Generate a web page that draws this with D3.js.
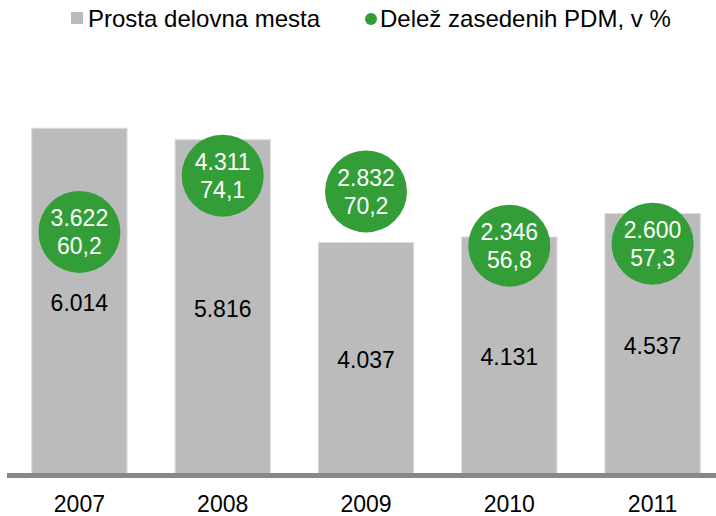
<!DOCTYPE html>
<html><head><meta charset="utf-8">
<script src="https://cdn.jsdelivr.net/npm/d3@7"></script>
<style>body{margin:0;background:#fff}svg{display:block}text{font-family:"Liberation Sans",Arial,sans-serif}</style>
</head><body>
<script>
const years = ["2007","2008","2009","2010","2011"];
const vacancies = [6014, 5816, 4037, 4131, 4537];
const filled = [3622, 4311, 2832, 2346, 2600];
const shareFilled = [60.2, 74.1, 70.2, 56.8, 57.3];
const legendLabels = ["Prosta delovna mesta", "Delež zasedenih PDM, v %"];

const W = 716, H = 516;
const baseY = 475.5;
const fmtInt = v => d3.format(",")(v).replace(/,/g, ".");
const fmtDec = v => d3.format(".1f")(v).replace(".", ",");

const svg = d3.select("body").append("svg").attr("width", W).attr("height", H);

const step = 143.3;
const x = d3.scaleBand().domain(years).range([7.75, 7.75 + step * years.length])
  .paddingInner(0.335).paddingOuter(0.1675);
const y = d3.scaleLinear().domain([0, 8000]).range([baseY, 13.6]);
const y2 = d3.scaleLinear().domain([0, 100]).range([baseY, 70.9]);

// bars
svg.append("g").selectAll("rect").data(years).join("rect")
  .attr("x", d => x(d)).attr("width", x.bandwidth())
  .attr("y", (d, i) => y(vacancies[i])).attr("height", (d, i) => baseY - y(vacancies[i]))
  .attr("fill", "#bbbbbb").attr("stroke", "#dcdcdc").attr("stroke-width", 1);

// bar labels
svg.append("g").selectAll("text").data(years).join("text")
  .attr("x", d => x(d) + x.bandwidth() / 2)
  .attr("y", (d, i) => (y(vacancies[i]) + 473) / 2 + 10.5)
  .attr("text-anchor", "middle").attr("font-size", 23).attr("fill", "#000")
  .text((d, i) => fmtInt(vacancies[i]));

// baseline
svg.append("line").attr("x1", 7).attr("x2", W).attr("y1", baseY).attr("y2", baseY)
  .attr("stroke", "#888888").attr("stroke-width", 5);

// x axis labels
svg.append("g").selectAll("text").data(years).join("text")
  .attr("x", d => x(d) + x.bandwidth() / 2).attr("y", 512)
  .attr("text-anchor", "middle").attr("font-size", 23).attr("fill", "#000")
  .text(d => d);

// circles
const cg = svg.append("g").selectAll("g").data(years).join("g")
  .attr("transform", (d, i) => `translate(${x(d) + x.bandwidth() / 2},${y2(shareFilled[i])})`);
cg.append("circle").attr("r", 41).attr("fill", "#339e37");
cg.append("text").attr("y", -5.7).attr("text-anchor", "middle").attr("font-size", 23)
  .attr("fill", "#fff").text((d, i) => fmtInt(filled[i]));
cg.append("text").attr("y", 22.3).attr("text-anchor", "middle").attr("font-size", 23)
  .attr("fill", "#fff").text((d, i) => fmtDec(shareFilled[i]));

// legend
const lg = svg.append("g");
lg.append("rect").attr("x", 71).attr("y", 12).attr("width", 12).attr("height", 12).attr("fill", "#bbbbbb");
lg.append("text").attr("x", 88).attr("y", 27).attr("font-size", 24).attr("fill", "#000").text(legendLabels[0]);
lg.append("circle").attr("cx", 371).attr("cy", 19).attr("r", 6).attr("fill", "#339e37");
lg.append("text").attr("x", 380).attr("y", 27).attr("font-size", 24).attr("fill", "#000").text(legendLabels[1]);
</script>
</body></html>
